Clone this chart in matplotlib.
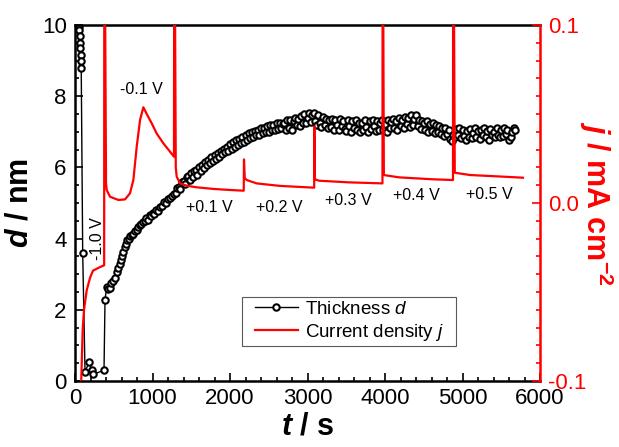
import matplotlib
matplotlib.use('Agg')
import matplotlib.pyplot as plt
from matplotlib.ticker import MultipleLocator, FormatStrFormatter

plt.rcParams['font.family'] = ['Liberation Sans', 'DejaVu Sans']
plt.rcParams['mathtext.fontset'] = 'custom'
plt.rcParams['mathtext.rm'] = 'Liberation Sans'
plt.rcParams['mathtext.it'] = 'Liberation Sans:italic'
plt.rcParams['mathtext.bf'] = 'Liberation Sans:bold'
plt.rcParams['mathtext.bfit'] = 'Liberation Sans:bold:italic'
plt.rcParams['axes.unicode_minus'] = False

# thickness d (nm) vs time t (s), early part (irregular)
t_d_early = [50, 55, 60, 64, 68, 72, 76, 80, 99, 129,
             185, 215, 237, 374, 387, 409, 430, 450, 470, 495,
             515, 538, 555, 575, 590, 610, 625, 645, 660, 675,
             700, 715, 731, 750, 770, 796, 815, 835, 855, 875,
             900, 920, 946, 965, 985, 1005, 1025, 1050, 1075, 1100,
             1125, 1150, 1175, 1200, 1226, 1250, 1275]
d_early = [9.95, 9.85, 9.7, 9.5, 9.35, 9.15, 9.0, 8.8, 3.6, 0.26,
           0.54, 0.31, 0.19, 0.3, 2.28, 2.65, 2.58, 2.62, 2.75, 2.82,
           2.9, 3.07, 3.16, 3.3, 3.4, 3.5, 3.63, 3.75, 3.85, 3.96,
           3.98, 4.06, 4.1, 4.12, 4.2, 4.24, 4.33, 4.38, 4.4, 4.47,
           4.5, 4.58, 4.52, 4.66, 4.64, 4.72, 4.7, 4.8, 4.78, 4.9,
           4.92, 5.02, 5.0, 5.1, 5.13, 5.2, 5.26]

# thickness, later part: one reading every 20 s from 1300 s to 5680 s
t_d_late = list(range(1300, 5700, 20))
d_late = [5.28, 5.42, 5.46, 5.38, 5.6, 5.62, 5.52, 5.72, 5.76, 5.64,
          5.84, 5.72, 5.9, 5.94, 5.8, 6.0, 5.9, 6.08, 5.98, 6.14,
          6.06, 6.22, 6.12, 6.28, 6.18, 6.34, 6.24, 6.4, 6.3, 6.46,
          6.38, 6.52, 6.42, 6.58, 6.46, 6.66, 6.52, 6.7, 6.58, 6.76,
          6.64, 6.8, 6.68, 6.86, 6.72, 6.9, 6.78, 6.96, 6.82, 6.98,
          6.86, 7.02, 6.9, 7.06, 6.92, 7.1, 6.96, 7.12, 6.98, 7.16,
          7.0, 7.18, 7.04, 7.2, 7.06, 7.24, 7.08, 7.26, 7.1, 7.22,
          7.25, 7.05, 7.32, 7.12, 7.34, 7.06, 7.3, 7.4, 7.18, 7.36,
          7.16, 7.44, 7.26, 7.5, 7.24, 7.4, 7.52, 7.28, 7.46, 7.54,
          7.3, 7.2, 7.46, 7.24, 7.14, 7.42, 7.2, 7.36, 7.1, 7.34,
          7.14, 7.36, 7.06, 7.32, 7.18, 7.04, 7.36, 7.16, 7.3, 7.08,
          7.02, 7.32, 7.16, 7.0, 7.3, 7.1, 7.34, 7.04, 7.26, 6.98,
          7.24, 7.04, 7.34, 7.14, 7.0, 7.3, 7.08, 7.32, 7.16, 7.02,
          7.3, 7.04, 7.24, 7.34, 7.06, 7.22, 7.0, 7.32, 7.12, 7.28,
          7.36, 7.12, 7.3, 7.06, 7.38, 7.16, 7.34, 7.1, 7.42, 7.22,
          7.38, 7.14, 7.46, 7.2, 7.36, 7.48, 7.16, 7.34, 7.08, 7.3,
          7.26, 7.04, 7.3, 7.0, 7.22, 7.02, 7.26, 6.96, 7.18, 7.0,
          7.16, 6.94, 7.12, 6.88, 7.1, 6.94, 7.06, 6.8, 6.74, 6.92,
          6.84, 7.08, 6.9, 7.12, 6.82, 7.04, 6.88, 6.78, 7.02, 6.86,
          7.08, 6.82, 6.96, 7.12, 6.86, 7.02, 6.8, 7.06, 6.92, 7.1,
          6.86, 7.02, 6.78, 7.08, 6.9, 6.98, 6.84, 7.1, 6.92, 6.86,
          7.04, 6.88, 7.12, 6.94, 7.06, 6.78, 6.84, 7.0, 7.1, 7.06]

t_d = t_d_early + t_d_late
d = d_early + d_late

# current density j (mA cm-2) vs time t (s)
t_j = [80, 99, 116, 151, 194, 232, 323, 376,
       378, 400, 409, 452, 559, 645, 710, 753, 796, 839,
       882, 925, 989, 1054, 1140, 1226, 1277, 1281, 1300, 1312,
       1355, 1441, 1570, 1785, 2000, 2177, 2180, 2190, 2215, 2344,
       2645, 3086, 3088, 3095, 3150, 3530, 3967, 3970, 3985, 4180,
       4620, 4877, 4880, 4900, 5100, 5520, 5780]
j = [-0.1, -0.071, -0.060, -0.049, -0.042, -0.038, -0.036, -0.035,
     0.2, 0.011, 0.0073, 0.0035, 0.0017, 0.002, 0.0055, 0.013, 0.0316, 0.0466,
     0.0538, 0.050, 0.0448, 0.039, 0.0335, 0.0288, 0.026, 0.2, 0.02, 0.0148,
     0.011, 0.0097, 0.0088, 0.0079, 0.0073, 0.0069, 0.0245, 0.014, 0.0129, 0.011,
     0.0096, 0.0086, 0.043, 0.0133, 0.0125, 0.0116, 0.011, 0.2, 0.0157, 0.0144,
     0.0133, 0.0129, 0.2, 0.017, 0.0157, 0.0148, 0.0142]

# potential step labels (text, t, d)
step_labels = ['-0.1 V', '+0.1 V', '+0.2 V', '+0.3 V', '+0.4 V', '+0.5 V']
step_t = [852, 1735, 2632, 3523, 4400, 5342]
step_d = [8.2, 4.87, 4.87, 5.06, 5.2, 5.25]

fig = plt.figure(figsize=(6.19, 4.47), dpi=100)
ax = fig.add_axes([0.1212, 0.1477, 0.7512, 0.7964])
ax2 = ax.twinx()

l1, = ax.plot(t_d, d, '-o', color='black', lw=1, ms=4.6, mfc='white',
              mec='black', mew=1.5, label='Thickness $d$')
l2, = ax2.plot(t_j, j, '-', color='red', lw=1.6, label='Current density $j$')

ax.set_xlim(0, 6000)
ax.set_ylim(0, 10)
ax2.set_ylim(-0.1, 0.1)

ax.xaxis.set_major_locator(MultipleLocator(1000))
ax.xaxis.set_minor_locator(MultipleLocator(200))
ax.yaxis.set_major_locator(MultipleLocator(2))
ax.yaxis.set_minor_locator(MultipleLocator(0.5))
ax2.yaxis.set_major_locator(MultipleLocator(0.1))
ax2.yaxis.set_minor_locator(MultipleLocator(0.01))
ax2.yaxis.set_major_formatter(FormatStrFormatter('%.1f'))

ax.tick_params(which='both', direction='in', top=False, right=False,
               labelsize=16, width=1.2)
ax.tick_params(which='major', length=5.5)
ax.tick_params(which='minor', length=3)
ax.tick_params(axis='x', pad=5)
ax.tick_params(axis='y', pad=6)
ax2.tick_params(which='both', direction='in', colors='red',
                labelsize=16, width=1.2, pad=6)
ax2.tick_params(which='major', length=5.5)
ax2.tick_params(which='minor', length=3)

for s in ['left', 'bottom', 'top']:
    ax.spines[s].set_linewidth(1.8)
    ax2.spines[s].set_visible(False)
ax.spines['right'].set_visible(False)
ax2.spines['right'].set_color('red')
ax2.spines['right'].set_linewidth(1.8)

ax.set_xlabel(r'$\mathbfit{t}$ / s', fontsize=22, fontweight='bold', labelpad=2)
ax.set_ylabel(r'$\mathbfit{d}$ / nm', fontsize=22, fontweight='bold', labelpad=5)
ax2.set_ylabel(r'$\mathbfit{j}$ / mA cm$^{\mathbf{-2}}$', fontsize=22,
               fontweight='bold', color='red', rotation=270, va='bottom',
               labelpad=-7)

ax.text(284, 3.99, '-1.0 V', rotation=90, fontsize=11.5, ha='center', va='center')
for lab, tt, dd in zip(step_labels, step_t, step_d):
    ax.text(tt, dd, lab, fontsize=11.5, ha='center', va='center')

leg = ax2.legend(handles=[l1, l2], loc='center', bbox_to_anchor=(0.59, 0.1666),
                 fontsize=13.5, numpoints=1, handlelength=2.3, handletextpad=0.4,
                 borderpad=0.2, labelspacing=0.2, fancybox=False, framealpha=1,
                 edgecolor='0.35', borderaxespad=0)
leg.get_frame().set_linewidth(0.8)
leg.get_frame().set_boxstyle('square', pad=0.45)
leg.get_frame().set_mutation_aspect(0.01)

fig.savefig('out.png', dpi=100)
